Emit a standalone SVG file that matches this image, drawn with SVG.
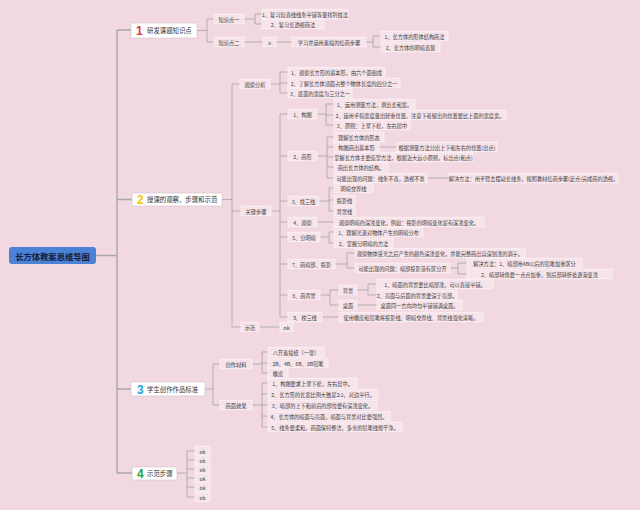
<svg xmlns="http://www.w3.org/2000/svg" width="640" height="510" viewBox="0 0 640 510">
<style>
.bg{fill:#f2d9e1}
.ln{fill:none;stroke:#a3a3a3;stroke-width:0.8}
.sp{fill:none;stroke:#a8a8a8;stroke-width:1.1}
.nd rect{fill:#f6e4ea;stroke:#fcf1f4;stroke-width:0.8}
.nd text{font-family:"Noto Sans CJK SC","Noto Sans",sans-serif;font-size:5.2px;fill:#3a3a3a;text-anchor:middle;dominant-baseline:central}
.br rect{fill:#ffffff;stroke:#d0c4c8;stroke-width:0.6}
.br text{font-family:"Noto Sans CJK SC","Noto Sans",sans-serif;font-size:6.4px;fill:#333;dominant-baseline:central}
.br text.num{font-family:"Liberation Sans","Noto Sans",sans-serif;font-size:12px;font-weight:bold}
.br text.n1{fill:#e0313c}
.br text.n2{fill:#f5c400}
.br text.n3{fill:#1fa3d9}
.br text.n4{fill:#25a336}
</style>
<rect class="bg" x="0" y="0" width="640" height="510"/>

<g id="connectors">
<path class="sp" d="M96 255.5H117M117 30V473M117 30H131M117 199.5H132M117 389H131M117 473H132" style="stroke-width:1.4"/>
<path class="ln" d="M197 30.5H207M207 19V42M207 19H214M207 42H214
M244 19H255M255 14V24M255 14H262M255 24H262
M244 42H263M276 42H292M366 42H373M373 36V47M373 36H381M373 47H381"/>
<path class="ln" d="M222 199.5H232M232 84V327M232 84H240M232 211H241M232 327H241
M270 84H280M280 72V93M280 72H288M280 83H288M280 93H288
M271 211H280M280 114V317M280 114H288M280 156H288M280 201H288M280 222H288M280 237H288M280 264H288M280 295H288M280 317H288
M317 114H326M326 104V125M326 104H334M326 115H334M326 125H334
M317 156H327M327 137V178M327 137H334M327 147H334M327 157H334M327 167H334M327 178H334M379 147H397M427 178H449
M319 201H329M329 188V211M329 188H334M329 200H334M329 211H334
M317 222H334
M320 237H329M329 232V243M329 232H334M329 243H334
M335 264H347M347 253V268M347 253H355M347 268H355M450 268H458M458 263V274M458 263H467M458 274H467
M320 295H330M330 290V305M330 290H339M330 305H339M357 290H368M368 284V295M368 284H377M368 295H377M357 305H377
M322 317H339
M259 327H280"/>
<path class="ln" d="M205 389H213M213 364V405M213 364H220M213 405H220
M252 364H262M262 352V373M262 352H268M262 363H268M262 373H268
M252 405H262M262 383V427M262 383H268M262 394H268M262 405H268M262 416H268M262 427H268"/>
<path class="ln" d="M177 473H187M187 451V497M187 451H195M187 460H195M187 469H195M187 478H195M187 487H195M187 497H195"/>
</g>

<g id="root">
<rect x="9" y="247" width="87" height="17" rx="3" fill="#4c82d6"/>
<text x="52.5" y="255.5" font-family="Noto Sans CJK SC,Noto Sans,sans-serif" font-size="8.3" font-weight="bold" fill="#14203c" text-anchor="middle" dominant-baseline="central">长方体教案思维导图</text>
</g>

<g id="b1" class="br"><rect x="131" y="23" width="66" height="15"/><text class="num n1" x="136" y="31">1</text><text x="147" y="30.5">研发课题知识点</text></g>
<g id="b2" class="br"><rect x="132" y="193" width="90" height="13"/><text class="num n2" x="137" y="200">2</text><text x="147" y="199.5">授课的观察、步骤和示范</text></g>
<g id="b3" class="br"><rect x="131" y="382" width="74" height="14"/><text class="num n3" x="137" y="389.5">3</text><text x="147" y="389">学生创作作品标准</text></g>
<g id="b4" class="br"><rect x="132" y="467" width="45" height="13"/><text class="num n4" x="137" y="473.5">4</text><text x="147" y="473">示范步骤</text></g>

<g id="k1" class="nd"><rect x="214" y="14.25" width="30" height="9.5"/><text x="229" y="19">知识点一</text></g>
<g id="k1a" class="nd"><rect x="262" y="9.25" width="86" height="9.5"/><text x="305" y="14">1、复习短直线线条平铺等量排列技法</text></g>
<g id="k1b" class="nd"><rect x="262" y="19.25" width="62" height="9.5"/><text x="293" y="24">2、复习长透视画法</text></g>
<g id="k2" class="nd"><rect x="214" y="37.25" width="30" height="9.5"/><text x="229" y="42">知识点二</text></g>
<g id="k2a" class="nd"><rect x="263" y="37.25" width="13" height="9.5"/><text x="269.5" y="42">a</text></g>
<g id="k2b" class="nd"><rect x="292" y="37.25" width="74" height="9.5"/><text x="329" y="42">学习并运用素描的绘画步骤</text></g>
<g id="k2b1" class="nd"><rect x="381" y="31.25" width="67" height="9.5"/><text x="414.5" y="36">1、长方体的形体结构画法</text></g>
<g id="k2b2" class="nd"><rect x="381" y="42.25" width="59" height="9.5"/><text x="410.5" y="47">2、长方体的明暗表现</text></g>

<g id="g1" class="nd"><rect x="240" y="79.25" width="30" height="9.5"/><text x="255" y="84">观察分析</text></g>
<g id="g1a" class="nd"><rect x="288" y="67.25" width="97" height="9.5"/><text x="336.5" y="72">1、观察长方形的基本形，由六个面组成</text></g>
<g id="g1b" class="nd"><rect x="288" y="78.25" width="112" height="9.5"/><text x="344" y="83">2、了解长方体顶面占整个物体长度的四分之一</text></g>
<g id="g1c" class="nd"><rect x="288" y="88.25" width="64" height="9.5"/><text x="320" y="93">3、底面的宽度为三分之一</text></g>
<g id="g2" class="nd"><rect x="241" y="206.25" width="30" height="9.5"/><text x="256" y="211">关键步骤</text></g>

<g id="s1" class="nd"><rect x="288" y="109.25" width="29" height="9.5"/><text x="302.5" y="114">1、构图</text></g>
<g id="s1a" class="nd"><rect x="334" y="99.25" width="81" height="9.5"/><text x="374.5" y="104">1、运用测量方法，测出长和宽。</text></g>
<g id="s1b" class="nd"><rect x="334" y="110.25" width="172" height="9.5"/><text x="420" y="115">2、运用手指宽度量出轻重位置，注意下者留出的位置要比上面的宽度宽。</text></g>
<g id="s1c" class="nd"><rect x="334" y="120.25" width="76" height="9.5"/><text x="372" y="125">3、原则：上紧下松，左右居中</text></g>

<g id="s2" class="nd"><rect x="288" y="151.25" width="29" height="9.5"/><text x="302.5" y="156">2、画形</text></g>
<g id="s2a" class="nd"><rect x="334" y="132.25" width="50" height="9.5"/><text x="359" y="137">理解长方体的形态</text></g>
<g id="s2b" class="nd"><rect x="334" y="142.25" width="45" height="9.5"/><text x="356.5" y="147">构图画出基本形</text></g>
<g id="s2b1" class="nd"><rect x="397" y="142.25" width="100" height="9.5"/><text x="447" y="147">根据测量方法分出上下和左右的位置(出点)</text></g>
<g id="s2c" class="nd"><rect x="334" y="152.25" width="139" height="9.5"/><text x="403.5" y="157">掌握长方体主要造型方法，根据近大远小原则，标出点(和点)</text></g>
<g id="s2d" class="nd"><rect x="334" y="162.25" width="54" height="9.5"/><text x="361" y="167">画出长方体的结构。</text></g>
<g id="s2e" class="nd"><rect x="334" y="173.25" width="93" height="9.5"/><text x="380.5" y="178">可能出现的问题：线条不直，透视不准</text></g>
<g id="s2e1" class="nd"><rect x="449" y="173.25" width="169" height="9.5"/><text x="533.5" y="178">解决方法：用手臂去摆动长线条，按照教材绘画步骤(定点)完成画的透视。</text></g>

<g id="s3" class="nd"><rect x="288" y="196.25" width="31" height="9.5"/><text x="303.5" y="201">3、找三线</text></g>
<g id="s3a" class="nd"><rect x="334" y="183.25" width="39" height="9.5"/><text x="353.5" y="188">明暗交界线</text></g>
<g id="s3b" class="nd"><rect x="334" y="195.25" width="21" height="9.5"/><text x="344.5" y="200">投影线</text></g>
<g id="s3c" class="nd"><rect x="334" y="206.25" width="21" height="9.5"/><text x="344.5" y="211">背景线</text></g>
<g id="s4" class="nd"><rect x="288" y="217.25" width="29" height="9.5"/><text x="302.5" y="222">4、观察</text></g>
<g id="s4a" class="nd"><rect x="334" y="217.25" width="150" height="9.5"/><text x="409" y="222">观察明暗的深浅变化，例如：投影的明暗变化是有深浅变化。</text></g>
<g id="s5" class="nd"><rect x="288" y="232.25" width="32" height="9.5"/><text x="304" y="237">5、分明暗</text></g>
<g id="s5a" class="nd"><rect x="334" y="227.25" width="89" height="9.5"/><text x="378.5" y="232">1、理解光源对物体产生的明暗分布</text></g>
<g id="s5b" class="nd"><rect x="334" y="238.25" width="59" height="9.5"/><text x="363.5" y="243">2、掌握分明暗的方法</text></g>

<g id="s7" class="nd"><rect x="288" y="259.25" width="47" height="9.5"/><text x="311.5" y="264">7、画暗部、投影</text></g>
<g id="s7a" class="nd"><rect x="355" y="248.25" width="170" height="9.5"/><text x="440" y="253">观察物体受光之后产生的颜色深浅变化，并能完整画出自深到浅的调子。</text></g>
<g id="s7b" class="nd"><rect x="355" y="263.25" width="95" height="9.5"/><text x="402.5" y="268">可能出现的问题：暗部投影没有区分开</text></g>
<g id="s7b1" class="nd"><rect x="467" y="258.25" width="115" height="9.5"/><text x="524.5" y="263">解决方法：1、暗部用4B以后的铅笔加重区分</text></g>
<g id="s7b2" class="nd"><rect x="467" y="269.25" width="145" height="9.5"/><text x="539.5" y="274">2、暗部转角要一点点加重，到后部转折处逐渐变浅</text></g>

<g id="s8" class="nd"><rect x="288" y="290.25" width="32" height="9.5"/><text x="304" y="295">8、画背景</text></g>
<g id="s8a" class="nd"><rect x="339" y="285.25" width="18" height="9.5"/><text x="348" y="290">背景</text></g>
<g id="s8a1" class="nd"><rect x="377" y="279.25" width="116" height="9.5"/><text x="435" y="284">1、暗面的背景要比暗部浅，可以直接平铺。</text></g>
<g id="s8a2" class="nd"><rect x="377" y="290.25" width="80" height="9.5"/><text x="417" y="295">2、亮面与后面的背景要深于亮部。</text></g>
<g id="s8b" class="nd"><rect x="339" y="300.25" width="18" height="9.5"/><text x="348" y="305">桌面</text></g>
<g id="s8b1" class="nd"><rect x="377" y="300.25" width="85" height="9.5"/><text x="419.5" y="305">桌面同一方向均匀平铺铺满桌面。</text></g>
<g id="s9" class="nd"><rect x="288" y="312.25" width="34" height="9.5"/><text x="305" y="317">9、校三线</text></g>
<g id="s9a" class="nd"><rect x="339" y="312.25" width="144" height="9.5"/><text x="411" y="317">使用橡皮和铅笔将投影线、明暗交界线、背景线强化清晰。</text></g>
<g id="g3" class="nd"><rect x="241" y="322.25" width="18" height="9.5"/><text x="250" y="327">示范</text></g>
<g id="g3a" class="nd"><rect x="280" y="322.25" width="13" height="9.5"/><text x="286.5" y="327">ok</text></g>

<g id="c1" class="nd"><rect x="220" y="359.25" width="32" height="9.5"/><text x="236" y="364">创作材料</text></g>
<g id="c1a" class="nd"><rect x="268" y="347.25" width="56" height="9.5"/><text x="296" y="352">八开素描纸（一张）</text></g>
<g id="c1b" class="nd"><rect x="268" y="358.25" width="60" height="9.5"/><text x="298" y="363">2B、4B、6B、8B铅笔</text></g>
<g id="c1c" class="nd"><rect x="268" y="368.25" width="20" height="9.5"/><text x="278" y="373">橡皮</text></g>
<g id="c2" class="nd"><rect x="220" y="400.25" width="32" height="9.5"/><text x="236" y="405">画面效果</text></g>
<g id="c2a" class="nd"><rect x="268" y="378.25" width="89" height="9.5"/><text x="312.5" y="383">1、构图要求上紧下松，左右居中。</text></g>
<g id="c2b" class="nd"><rect x="268" y="389.25" width="110" height="9.5"/><text x="323" y="394">2、长方形的长宽比例大致是2:1，对边平行。</text></g>
<g id="c2c" class="nd"><rect x="268" y="400.25" width="109" height="9.5"/><text x="322.5" y="405">3、暗部的上下和前后的部位要有深浅变化。</text></g>
<g id="c2d" class="nd"><rect x="268" y="411.25" width="122" height="9.5"/><text x="329" y="416">4、长方体的暗面与亮面，暗面与背景对比要强烈。</text></g>
<g id="c2e" class="nd"><rect x="268" y="422.25" width="134" height="9.5"/><text x="335" y="427">5、线条要柔和，画面保持整洁，多余的铅笔线擦干净。</text></g>

<g id="d1" class="nd"><rect x="195" y="446.25" width="15" height="9.5"/><text x="202.5" y="451">ok</text></g>
<g id="d2" class="nd"><rect x="195" y="455.25" width="15" height="9.5"/><text x="202.5" y="460">ok</text></g>
<g id="d3" class="nd"><rect x="195" y="464.25" width="15" height="9.5"/><text x="202.5" y="469">ok</text></g>
<g id="d4" class="nd"><rect x="195" y="473.25" width="15" height="9.5"/><text x="202.5" y="478">ok</text></g>
<g id="d5" class="nd"><rect x="195" y="482.25" width="15" height="9.5"/><text x="202.5" y="487">ok</text></g>
<g id="d6" class="nd"><rect x="195" y="492.25" width="15" height="9.5"/><text x="202.5" y="497">ok</text></g>
</svg>
